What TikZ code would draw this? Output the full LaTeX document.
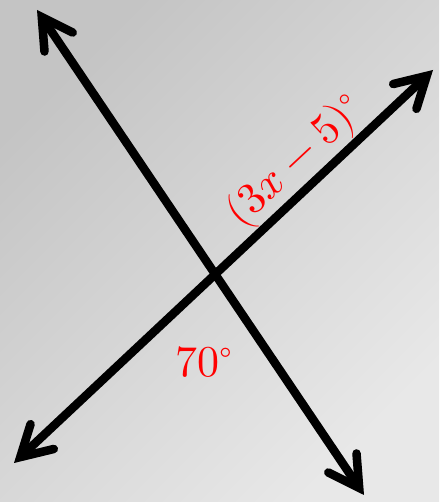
\documentclass[tikz,border=0pt]{standalone}
\usepackage{unicode-math}
\setmathfont{Latin Modern Math}
\usetikzlibrary{arrows.meta}
\definecolor{bgA}{RGB}{196,196,196}
\definecolor{bgB}{RGB}{232,232,232}
\tikzset{
  dblarrow/.style={line width=8.5pt, {Straight Barb[length=30pt,width=34pt,line cap=round,line join=miter]}-{Straight Barb[length=30pt,width=34pt,line cap=round,line join=miter]}},
  shadowline/.style={dblarrow, draw=black, opacity=0.12},
  anglelabel/.style={text=red, font=\fontsize{44}{50}\selectfont, inner sep=0pt}
}
\begin{document}
\begin{tikzpicture}[x=1pt,y=1pt]
\useasboundingbox (0,0) rectangle (439,502);
\shade[top color=bgA, bottom color=bgB, shading angle=45] (0,0) rectangle (439,502);
\coordinate (a1) at (37,492);
\coordinate (a2) at (364,7);
\coordinate (b1) at (14,39);
\coordinate (b2) at (433,432);
% soft shadows
\begin{scope}[shift={(3,-4)}]
\draw[shadowline] (a1) -- (a2);
\draw[shadowline] (b1) -- (b2);
\end{scope}
\draw[dblarrow] (a1) -- (a2);
\draw[dblarrow] (b1) -- (b2);
\node[anglelabel, rotate=43] (lab1) at (296,340) {$(3x-5)^\circ$};
\node[anglelabel] (lab2) at (204,140) {$70^\circ$};
\end{tikzpicture}
\end{document}
